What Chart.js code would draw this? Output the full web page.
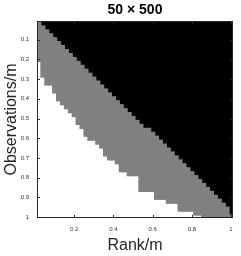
<!DOCTYPE html>
<html>
<head>
<meta charset="utf-8">
<script src="https://cdn.jsdelivr.net/npm/chart.js@4"></script>
<style>html,body{margin:0;padding:0;background:#fff;}</style>
</head>
<body>
<canvas id="chPhase" width="241" height="256"></canvas>
<script>
// rank/m for each column of the 50 x 500 grid
var ranks = [0.02,0.04,0.06,0.08,0.10,0.12,0.14,0.16,0.18,0.20,
             0.22,0.24,0.26,0.28,0.30,0.32,0.34,0.36,0.38,0.40,
             0.42,0.44,0.46,0.48,0.50,0.52,0.54,0.56,0.58,0.60,
             0.62,0.64,0.66,0.68,0.70,0.72,0.74,0.76,0.78,0.80,
             0.82,0.84,0.86,0.88,0.90,0.92,0.94,0.96,0.98,1.00];
// observations/m where the black (failure) region ends
var blackEnd = [0.01,0.03,0.05,0.07,0.09,0.11,0.13,0.15,0.17,0.19,
                0.21,0.23,0.25,0.27,0.29,0.31,0.33,0.35,0.37,0.39,
                0.41,0.43,0.45,0.47,0.49,0.51,0.53,0.55,0.55,0.57,
                0.59,0.61,0.63,0.65,0.67,0.69,0.71,0.73,0.75,0.77,
                0.79,0.81,0.83,0.85,0.87,0.89,0.91,0.93,0.95,0.99];
// observations/m where the gray region ends (white below)
var grayEnd = [0.21,0.29,0.33,0.33,0.37,0.41,0.43,0.45,0.47,0.49,
               0.53,0.55,0.59,0.61,0.61,0.63,0.65,0.69,0.71,0.71,
               0.73,0.77,0.77,0.79,0.79,0.79,0.87,0.87,0.87,0.87,
               0.91,0.91,0.91,0.93,0.93,0.93,0.97,0.97,0.97,0.97,
               0.99,0.99,1.01,1.01,1.01,1.01,1.01,1.01,1.01,1.01];
var xTicks = [0.2,0.4,0.6,0.8,1];
var yTicks = [0.1,0.2,0.3,0.4,0.5,0.6,0.7,0.8,0.9,1];
var obsTop = 0.005;

var axisColor = '#262626';
var tickFont = {family:'Liberation Sans', size:6};

function tickLabel(v) { return v === 1 ? '1' : v.toFixed(1); }

// MATLAB style box with inward ticks
var axisBox = {
  id: 'axisBox',
  afterDatasetsDraw: function(chart) {
    var ctx = chart.ctx, a = chart.chartArea;
    var xs = chart.scales.x, ys = chart.scales.y;
    ctx.save();
    ctx.strokeStyle = axisColor;
    ctx.lineWidth = 1;
    ctx.strokeRect(a.left + 0.5, a.top + 0.5, a.right - a.left - 1, a.bottom - a.top - 1);
    ctx.beginPath();
    xTicks.forEach(function(v) {
      var px = Math.round(xs.getPixelForValue(v)) + 0.5;
      ctx.moveTo(px, a.bottom); ctx.lineTo(px, a.bottom - 3);
      ctx.moveTo(px, a.top); ctx.lineTo(px, a.top + 3);
    });
    yTicks.forEach(function(v) {
      var py = Math.round(ys.getPixelForValue(v)) + 0.5;
      ctx.moveTo(a.left, py); ctx.lineTo(a.left + 3, py);
      ctx.moveTo(a.right, py); ctx.lineTo(a.right - 3, py);
    });
    ctx.stroke();
    ctx.restore();
  }
};

var blackData = ranks.map(function(r, i) { return {x: r, y: [obsTop, blackEnd[i]]}; });
var grayData = ranks.map(function(r, i) { return {x: r, y: [blackEnd[i], grayEnd[i]]}; });

new Chart(document.getElementById('chPhase'), {
  type: 'bar',
  data: {
    datasets: [
      {label: 'gray', data: grayData, backgroundColor: '#808080', borderWidth: 0, inflateAmount: 0.6,
       grouped: false, barPercentage: 1, categoryPercentage: 1},
      {label: 'black', data: blackData, backgroundColor: '#000000', borderWidth: 0, inflateAmount: 0.6,
       grouped: false, barPercentage: 1, categoryPercentage: 1}
    ]
  },
  options: {
    responsive: false,
    animation: false,
    layout: {padding: {left: 0, right: 8, top: 0, bottom: 0}},
    plugins: {legend: {display: false}, tooltip: {enabled: false}},
    scales: {
      x: {
        type: 'linear', position: 'bottom', min: 0.01, max: 1.01, offset: false,
        grid: {display: false}, border: {display: false},
        afterBuildTicks: function(s) { s.ticks = xTicks.map(function(v) { return {value: v}; }); },
        afterFit: function(s) { s.height = 38; },
        ticks: {font: tickFont, color: '#333', padding: 0, maxRotation: 0, autoSkip: false, callback: tickLabel},
        title: {display: true, text: 'Rank/m', color: axisColor,
                font: {family: 'Liberation Sans', size: 16}, padding: {top: 0, bottom: 1}}
      },
      x2: {
        type: 'linear', position: 'top', min: 0, max: 1,
        grid: {display: false}, border: {display: false},
        ticks: {display: false},
        afterFit: function(s) { s.height = 21; },
        title: {display: true, text: '50 × 500', color: '#000',
                font: {family: 'Liberation Sans', size: 14, weight: 'bold'}, padding: {top: 2, bottom: 0}}
      },
      y: {
        type: 'linear', position: 'left', reverse: true, min: obsTop, max: 1.005,
        grid: {display: false}, border: {display: false},
        afterBuildTicks: function(s) { s.ticks = yTicks.map(function(v) { return {value: v}; }); },
        afterFit: function(s) { s.width = 37; },
        ticks: {font: tickFont, color: '#333', padding: 0, autoSkip: false, callback: tickLabel},
        title: {display: true, text: 'Observations/m', color: axisColor,
                font: {family: 'Liberation Sans', size: 16}, padding: {top: 2, bottom: 0}}
      }
    }
  },
  plugins: [axisBox]
});
</script>
</body>
</html>
